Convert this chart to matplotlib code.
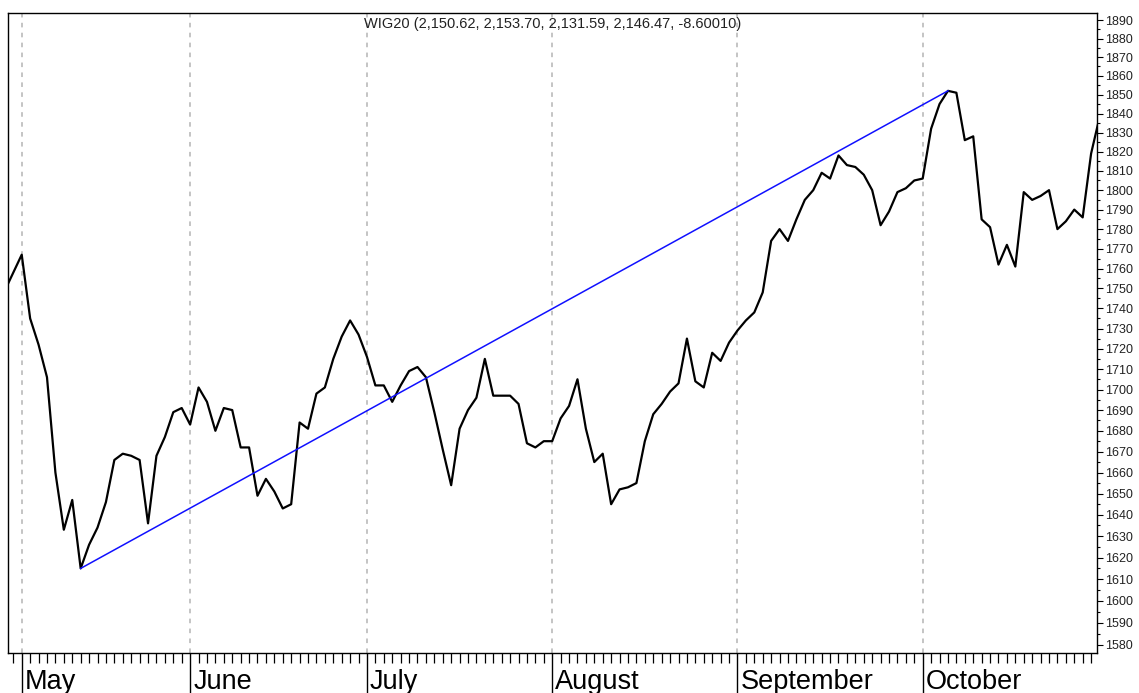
import numpy as np
import matplotlib
matplotlib.use('Agg')
import matplotlib.pyplot as plt
from matplotlib.ticker import MultipleLocator, FixedLocator, FormatStrFormatter, NullFormatter

plt.rcParams['font.family'] = ['Liberation Sans', 'DejaVu Sans']

# trading day index, 0 = first session of May
days = np.arange(-2, 129)
close = [1749, 1758,
         1767, 1735, 1722, 1706, 1660, 1633, 1647, 1615, 1626, 1634,
         1646, 1666, 1669, 1668, 1666, 1636, 1668, 1677, 1689, 1691,
         1683, 1701, 1694, 1680, 1691, 1690, 1672, 1672, 1649, 1657,
         1651, 1643, 1645, 1684, 1681, 1698, 1701, 1715, 1726, 1734,
         1727, 1716, 1702, 1702, 1694, 1702, 1709, 1711, 1706, 1689,
         1671, 1654, 1681, 1690, 1696, 1715, 1697, 1697, 1697, 1693,
         1674, 1672, 1675, 1675, 1686, 1692, 1705, 1681, 1665, 1669,
         1645, 1652, 1653, 1655, 1675, 1688, 1693, 1699, 1703, 1725,
         1704, 1701, 1718, 1714, 1723, 1729, 1734, 1738, 1748, 1774,
         1780, 1774, 1785, 1795, 1800, 1809, 1806, 1818, 1813, 1812,
         1808, 1800, 1782, 1789, 1799, 1801, 1805, 1806, 1832, 1845,
         1852, 1851, 1826, 1828, 1785, 1781, 1762, 1772, 1761, 1799,
         1795, 1797, 1800, 1780, 1784, 1790, 1786, 1819, 1838]

month_starts = [0, 20, 41, 63, 85, 107]
month_names = ['May', 'June', 'July', 'August', 'September', 'October']
title_text = 'WIG20 (2,150.62, 2,153.70, 2,131.59, 2,146.47, -8.60010)'

fig = plt.figure(figsize=(11.39, 6.93), dpi=100)
ax = fig.add_axes([8 / 1139, 40 / 693, 1089 / 1139, 640 / 693])

# dashed month separators
for m in month_starts:
    ax.axvline(m, color='#b4b4b4', lw=1.1, dashes=(3, 3.5), zorder=0)

ax.plot(days, close, color='black', lw=1.6, zorder=3)

# trend line from the low to the high
close_arr = np.array(close)
i_lo = int(np.argmin(close_arr))
i_hi = int(np.argmax(close_arr))
ax.plot([days[i_lo], days[i_hi]], [close_arr[i_lo], close_arr[i_hi]],
        color='#1010ff', lw=1.1, zorder=4)

ax.set_yscale('log')
ax.set_xlim(-1.63, 127.7)
ax.set_ylim(1576.3, 1893.8)

ax.yaxis.tick_right()
ax.yaxis.set_major_locator(MultipleLocator(10))
ax.yaxis.set_minor_locator(MultipleLocator(5))
ax.yaxis.set_major_formatter(FormatStrFormatter('%d'))
ax.yaxis.set_minor_formatter(NullFormatter())
ax.tick_params(axis='y', which='major', direction='out', length=4.3, width=0.8,
               pad=1.5, labelsize=9, labelcolor='#222222')
ax.tick_params(axis='y', which='minor', direction='out', length=2.2, width=0.8)

ax.xaxis.set_major_locator(FixedLocator(month_starts))
ax.xaxis.set_minor_locator(FixedLocator(np.arange(-1, 128)))
ax.xaxis.set_major_formatter(NullFormatter())
ax.tick_params(axis='x', which='major', direction='out', length=29, width=1.0)
ax.tick_params(axis='x', which='minor', direction='out', length=7, width=0.9)

for m, name in zip(month_starts, month_names):
    ax.annotate(name, xy=(m, 0), xycoords=('data', 'axes fraction'),
                xytext=(2.2, -11.5), textcoords='offset points',
                ha='left', va='top', fontsize=19.5, color='black')

ax.text(0.5, 0.983, title_text, transform=ax.transAxes, ha='center',
        va='center', fontsize=10.5, color='#222222')

for s in ax.spines.values():
    s.set_linewidth(1.0)
    s.set_color('black')

fig.savefig('out.png', dpi=100)
